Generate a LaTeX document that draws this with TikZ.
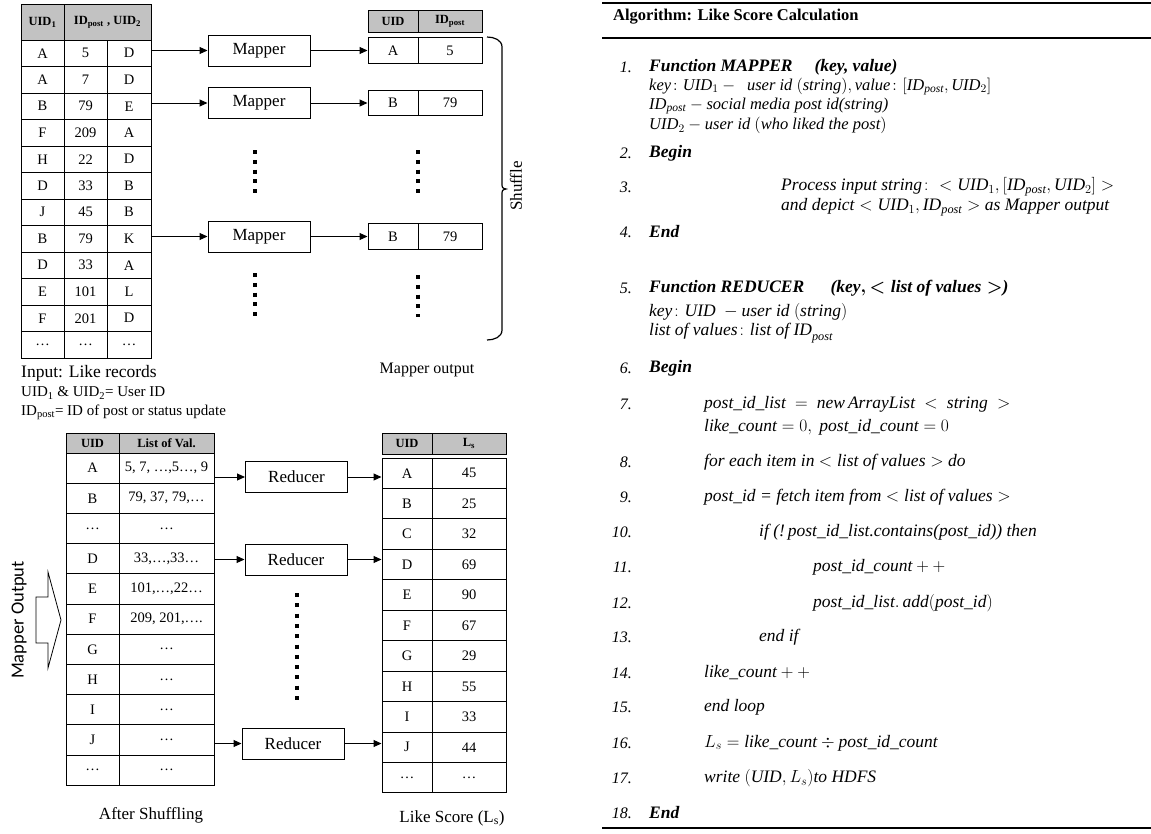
\RequirePackage{fix-cm}
\documentclass[tikz,border=0pt]{standalone}
\usepackage{amsmath}
\usepackage{fontspec}
\setmainfont{Liberation Serif}
\newfontfamily\labelsans{Carlito}
\usetikzlibrary{arrows.meta}
\tikzset{
  cell/.style={
    draw,
    line width=1pt,
    inner sep=0pt,
    font=\fontsize{14.5}{16}\selectfont
  },
  head/.style={
    cell,
    fill=gray!48,
    font=\bfseries\fontsize{12.5}{14}\selectfont
  },
  task box/.style={
    draw,
    line width=1pt,
    inner sep=0pt,
    minimum width=102pt,
    minimum height=31pt,
    font=\fontsize{17}{19}\selectfont
  },
  flow/.style={
    -{Triangle[length=8pt, width=7pt]},
    line width=1pt
  },
  dot column/.style={
    line width=4pt,
    dash pattern=on 4pt off 5.8pt
  },
  caption/.style={
    font=\fontsize{17}{19}\selectfont
  },
  note/.style={
    anchor=west,
    inner sep=0pt,
    font=\fontsize{15}{17}\selectfont
  },
  algo/.style={
    anchor=west,
    inner sep=0pt,
    font=\fontsize{17.5}{20}\selectfont
  },
  algo tight/.style={
    algo,
    font=\fontsize{16.5}{18}\selectfont
  },
  algo num/.style={
    anchor=east,
    inner sep=0pt,
    font=\itshape\fontsize{16}{19}\selectfont
  },
  rule/.style={
    line width=1.6pt
  }
}

\begin{document}
\begin{tikzpicture}[x=1pt, y=-1pt]
    % 1 unit = 1 px of the 1151 x 833 layout, y grows downwards
    \useasboundingbox (0,0) rectangle (1151,833);

    % input: like records
    \node[head, minimum width=43pt, minimum height=36pt] (in-h1) at (42.5,22) {UID\textsubscript{1}};
    \node[head, minimum width=87pt, minimum height=36pt] (in-h2) at (107.5,22) {ID\textsubscript{post} , UID\textsubscript{2}};
    \foreach \u/\p/\v [count=\i] in {A/5/D, A/7/D, B/79/E, F/209/A, H/22/D, D/33/B, J/45/B, B/79/K, D/33/A, E/101/L, F/201/D, \ldots/\ldots/\ldots} {
      \node[cell, minimum width=43pt, minimum height=26.5pt] (in-\i-a) at (42.5, {26.75+26.5*\i}) {\u};
      \node[cell, minimum width=43pt, minimum height=26.5pt] (in-\i-b) at (85.5, {26.75+26.5*\i}) {\p};
      \node[cell, minimum width=44pt, minimum height=26.5pt] (in-\i-c) at (129, {26.75+26.5*\i}) {\v};
    }
    \node[note, font=\fontsize{17.5}{19}\selectfont] (in-cap) at (21,373) {Input: Like records};
    \node[note] (in-note1) at (21,393) {UID\textsubscript{1} \& UID\textsubscript{2}= User ID};
    \node[note] (in-note2) at (21,412) {ID\textsubscript{post}= ID of post or status update};

    % mappers
    \node[task box] (map1) at (259,50.5) {Mapper};
    \node[task box] (map2) at (259,103) {Mapper};
    \node[task box] (map3) at (259,236.5) {Mapper};
    \draw[flow] (in-1-c.east |- map1.west) -- (map1.west);
    \draw[flow] (in-3-c.east |- map2.west) -- (map2.west);
    \draw[flow] (in-8-c.east |- map3.west) -- (map3.west);
    \draw[dot column] (255,150) -- (255,193);
    \draw[dot column] (255,273) -- (255,317);

    % mapper output
    \node[head, minimum width=50pt, minimum height=22pt] (out-h1) at (393,21) {UID};
    \node[head, minimum width=64pt, minimum height=22pt] (out-h2) at (450,21) {ID\textsubscript{post}};
    \foreach \y/\u/\p [count=\i] in {50.5/A/5, 103/B/79, 236.5/B/79} {
      \node[cell, minimum width=50pt, minimum height=25.5pt] (out-\i-a) at (393,\y) {\u};
      \node[cell, minimum width=64pt, minimum height=25.5pt] (out-\i-b) at (450,\y) {\p};
      \draw[flow] (map\i) -- (out-\i-a);
    }
    \draw[dot column] (418,150) -- (418,193);
    \draw[dot column] (418,275) -- (418,317);
    \node[caption, font=\fontsize{16}{18}\selectfont] (out-cap) at (427,370) {Mapper output};

    % shuffle brace
    \draw[line width=1.2pt] (487,37) to[out=0, in=90] (502,47) -- (502,182)
      .. controls (502,188) .. (506,189) .. controls (502,190) .. (502,196)
      -- (502,330) to[out=-90, in=0] (487,340);
    \node[caption, rotate=90] (shuffle) at (516,186) {Shuffle};

    % mapper output arrow
    \draw[line width=0.8pt] (36,597) -- (48,597) -- (48,572) -- (61,620) -- (48,668) -- (48,643) -- (36,643) -- cycle;
    \node[rotate=90, font=\labelsans\fontsize{18.5}{20}\selectfont] (mo-label) at (19,620) {Mapper Output};

    % after shuffling
    \node[head, minimum width=53pt, minimum height=20pt] (shuf-h1) at (92.5,443) {UID};
    \node[head, minimum width=95pt, minimum height=20pt] (shuf-h2) at (166.5,443) {List of Val.};
    \foreach \u/\l [count=\i] in {A/{5, 7, \ldots,5\ldots, 9}, B/{79, 37, 79,\ldots}, \ldots/\ldots, D/{33,\ldots,33\ldots}, E/{101,\ldots,22\ldots}, F/{209, 201,\ldots.}, G/\ldots, H/\ldots, I/\ldots, J/\ldots, \ldots/\ldots} {
      \node[cell, minimum width=53pt, minimum height=30.2pt] (shuf-\i-a) at (92.5, {437.9+30.2*\i}) {\u};
      \node[cell, minimum width=95pt, minimum height=30.2pt] (shuf-\i-b) at (166.5, {437.9+30.2*\i}) {\l};
    }
    \node[caption] (shuf-cap) at (151,815) {After Shuffling};

    % like score
    \node[head, minimum width=50pt, minimum height=21pt] (score-h1) at (407,443.5) {UID};
    \node[head, minimum width=74pt, minimum height=21pt] (score-h2) at (469,443.5) {L\textsubscript{s}};
    \foreach \u/\s [count=\i] in {A/45, B/25, C/32, D/69, E/90, F/67, G/29, H/55, I/33, J/44, \ldots/\ldots} {
      \node[cell, minimum width=50pt, minimum height=30.45pt] (score-\i-a) at (407, {442.775+30.45*\i}) {\u};
      \node[cell, minimum width=74pt, minimum height=30.45pt] (score-\i-b) at (469, {442.775+30.45*\i}) {\s};
    }
    \node[caption] (score-cap) at (452,818) {Like Score (L\textsubscript{s})};

    % reducers
    \node[task box] (red1) at (296.5,477) {Reducer};
    \node[task box] (red2) at (296,559.5) {Reducer};
    \node[task box] (red3) at (293,743.5) {Reducer};
    \draw[flow] (shuf-1-b.east |- red1.west) -- (red1.west);
    \draw[flow] (shuf-4-b.east |- red2.west) -- (red2.west);
    \draw[flow] (shuf-10-b.east |- red3.west) -- (red3.west);
    \draw[flow] (red1.east) -- (red1.east -| score-1-a.west);
    \draw[flow] (red2.east) -- (red2.east -| score-4-a.west);
    \draw[flow] (red3.east) -- (red3.east -| score-10-a.west);
    \draw[dot column, dash pattern=on 4pt off 6.3pt] (297,593) -- (297,700);

    % algorithm
    \draw[rule] (602,3) -- (1151,3);
    \draw[rule] (602,38) -- (1151,38);
    \draw[rule] (602,828) -- (1151,828);
    \node[algo, font=\bfseries\fontsize{16.5}{19}\selectfont] (algo-title) at (613,17) {Algorithm: Like Score Calculation};
    \foreach \n/\y in {1/67, 2/153, 3/187, 4/232, 5/288, 6/368, 7/404, 8/462, 9/497, 10/532, 11/567, 12/603, 13/637, 14/673, 15/707, 16/743, 17/778, 18/813} {
      \node[algo num] (num-\n) at (632,\y) {\n.};
    }
    \node[algo] (alg-1) at (649,67) {\textbf{\textit{Function MAPPER \quad (key, value)}}};
    \node[algo tight] (alg-1b) at (649,86.5) {$\mathit{key}\colon \mathit{UID}_1 -\ \ \mathit{user\ id}\ (\mathit{string}),\mathit{value}\colon [\mathit{ID}_{\mathit{post}}, \mathit{UID}_2]$};
    \node[algo tight] (alg-1c) at (649,106) {$\mathit{ID}_{\mathit{post}} - \mathit{social\ media\ post\ id}$\textit{(string)}};
    \node[algo tight] (alg-1d) at (649,125.5) {$\mathit{UID}_2 - \mathit{user\ id}\ (\mathit{who\ liked\ the\ post})$};
    \node[algo] (alg-2) at (649,153) {\textbf{\textit{Begin}}};
    \node[algo] (alg-3) at (781,187) {$\mathit{Process\ input\ string}\colon < \mathit{UID}_1, [\mathit{ID}_{\mathit{post}}, \mathit{UID}_2] >$};
    \node[algo] (alg-3b) at (781,207) {$\mathit{and\ depict} < \mathit{UID}_1, \mathit{ID}_{\mathit{post}} >$ \textit{as Mapper output}};
    \node[algo] (alg-4) at (649,232) {\textbf{\textit{End}}};
    \node[algo] (alg-5) at (649,288) {\textbf{\textit{Function REDUCER}}\hspace{1.5em}\textbf{\textit{(key}}{\boldmath$,< \mathit{list\ of\ values} >$}\textbf{\textit{)}}};
    \node[algo] (alg-5b) at (649,312) {$\mathit{key}\colon \mathit{UID}\ - \mathit{user\ id}\ (\mathit{string})$};
    \node[algo] (alg-5c) at (649,333) {$\mathit{list\ of\ values}\colon \mathit{list\ of\ ID}_{\mathit{post}}$};
    \node[algo] (alg-6) at (649,368) {\textbf{\textit{Begin}}};
    \node[algo] (alg-7) at (704,404) {$\mathit{post\_id\_list}\ =\ \mathit{new\,ArrayList}\ <\ \mathit{string}\ >$};
    \node[algo] (alg-7b) at (704,427) {$\mathit{like\_count} = 0,\ \mathit{post\_id\_count} = 0$};
    \node[algo] (alg-8) at (704,462) {\textit{for each item in} $< \mathit{list\ of\ values} >$ \textit{do}};
    \node[algo] (alg-9) at (704,497) {\textit{post\_id = fetch item from} $< \mathit{list\ of\ values} >$};
    \node[algo] (alg-10) at (759,532) {\textit{if (!}\,$\mathit{post\_id\_list}$\textit{.contains(post\_id)) then}};
    \node[algo] (alg-11) at (813,567) {$\mathit{post\_id\_count} + +$};
    \node[algo] (alg-12) at (813,603) {$\mathit{post\_id\_list.\,add}(\mathit{post\_id})$};
    \node[algo] (alg-13) at (759,637) {$\mathit{end\ if}$};
    \node[algo] (alg-14) at (704,673) {$\mathit{like\_count} + +$};
    \node[algo] (alg-15) at (704,707) {$\mathit{end\ loop}$};
    \node[algo] (alg-16) at (704,743) {$L_s = \mathit{like\_count} \div \mathit{post\_id\_count}$};
    \node[algo] (alg-17) at (704,778) {$\mathit{write}\ (\mathit{UID}, L_s)\mathit{to\ HDFS}$};
    \node[algo] (alg-18) at (649,813) {\textbf{\textit{End}}};

  \end{tikzpicture}
\end{document}
